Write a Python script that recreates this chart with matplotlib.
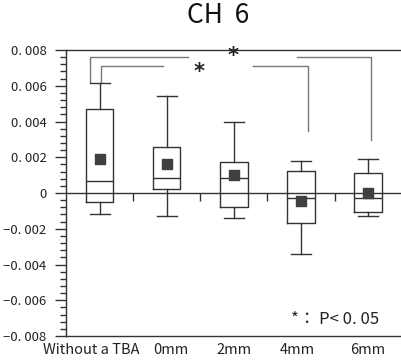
import matplotlib
matplotlib.use("Agg")
import matplotlib.pyplot as plt
import matplotlib.transforms as mtransforms
from matplotlib.ticker import MultipleLocator, FixedLocator, FixedFormatter

plt.rcParams['font.family'] = ['Noto Sans CJK JP', 'DejaVu Sans']

categories = ["Without a TBA", "0mm", "2mm", "4mm", "6mm"]
whislo = [-0.00118, -0.0013, -0.0014, -0.0034, -0.0013]
q1 = [-0.00053, 0.00021, -0.0008, -0.00167, -0.00107]
med = [0.00068, 0.00083, 0.00085, -0.0003, -0.00026]
q3 = [0.00471, 0.00259, 0.00175, 0.00124, 0.00111]
whishi = [0.00618, 0.00545, 0.00396, 0.0018, 0.00193]
means = [0.00191, 0.0016, 0.00098, -0.00043, 0.00002]

yticks = [-0.008, -0.006, -0.004, -0.002, 0, 0.002, 0.004, 0.006, 0.008]
ytick_labels = ["\u22120. 008", "\u22120. 006", "\u22120. 004", "\u22120. 002", "0",
                "0. 002", "0. 004", "0. 006", "0. 008"]

# significance brackets
brackets = [
    dict(x0=0.85, y0=0.0062, x1=5.04, y1=0.00299, level=0.00763, g0=2.31, g1=3.94, sx=2.99, sy=0.00768),
    dict(x0=1.025, y0=0.0062, x1=4.10, y1=0.00349, level=0.0071, g0=1.94, g1=3.28, sx=2.48, sy=0.00675),
]

fig = plt.figure(figsize=(4.01, 3.64), dpi=100)
ax = fig.add_axes([0.1646, 0.0769, 0.8354, 0.7857])

positions = list(range(1, len(categories) + 1))
stats = [dict(whislo=a, q1=b, med=c, q3=d, whishi=e, fliers=[])
         for a, b, c, d, e in zip(whislo, q1, med, q3, whishi)]
box_col = '#333333'
ax.bxp(stats, positions=positions, widths=0.41, showfliers=False,
       boxprops=dict(color=box_col, linewidth=1.0),
       medianprops=dict(color=box_col, linewidth=1.0),
       whiskerprops=dict(color=box_col, linewidth=1.0),
       capprops=dict(color=box_col, linewidth=1.0), capwidths=0.3, zorder=3)
ax.scatter(positions, means, marker='s', s=60, color='#404040', zorder=4)

# zero line with ticks between groups
ax.axhline(0, color='#333333', linewidth=1.0, zorder=1)
mids = [p + 0.5 for p in positions[:-1]]
ax.vlines(mids, -0.00042, 0, color='#333333', linewidth=1.0)

gray = '#777777'
for b in brackets:
    ax.plot([b['x0'], b['x0'], b['g0']], [b['y0'], b['level'], b['level']], color=gray, lw=1.0)
    ax.plot([b['g1'], b['x1'], b['x1']], [b['level'], b['level'], b['y1']], color=gray, lw=1.0)
    ax.text(b['sx'], b['sy'], '*', ha='center', va='center', fontsize=15, color='#222222',
            family=['DejaVu Sans'], fontweight='bold')

ax.text(5.17, -0.00705, "*\uff1a P< 0. 05", ha='right', va='center', fontsize=12, color='#222222')

ax.set_xlim(0.5, 5.49)
ax.set_ylim(-0.008, 0.008)
ax.yaxis.set_major_locator(FixedLocator(yticks))
ax.yaxis.set_major_formatter(FixedFormatter(ytick_labels))
ax.yaxis.set_minor_locator(MultipleLocator(0.0004))
ax.tick_params(axis='y', which='major', length=8, width=1.0, color='#333333', labelsize=9.5,
               labelcolor='#222222', pad=6)
ax.tick_params(axis='y', which='minor', length=4, width=1.0, color='#333333')
ax.set_xticks(positions)
ax.set_xticklabels(categories)
ax.tick_params(axis='x', length=0, labelsize=10.5, labelcolor='#222222', pad=5)
shifts = [-8, 4, 0, -4, 0]
for lbl, dx in zip(ax.get_xticklabels(), shifts):
    lbl.set_transform(lbl.get_transform() +
                      mtransforms.ScaledTranslation(dx / 100, 0, fig.dpi_scale_trans))

ax.spines['right'].set_visible(False)
for s in ['left', 'top', 'bottom']:
    ax.spines[s].set_color('#333333')
    ax.spines[s].set_linewidth(1.0)

fig.text(0.543, 0.958, "CH  6", ha='center', va='center', fontsize=19, color='#111111')

fig.savefig("out.png", dpi=100)
